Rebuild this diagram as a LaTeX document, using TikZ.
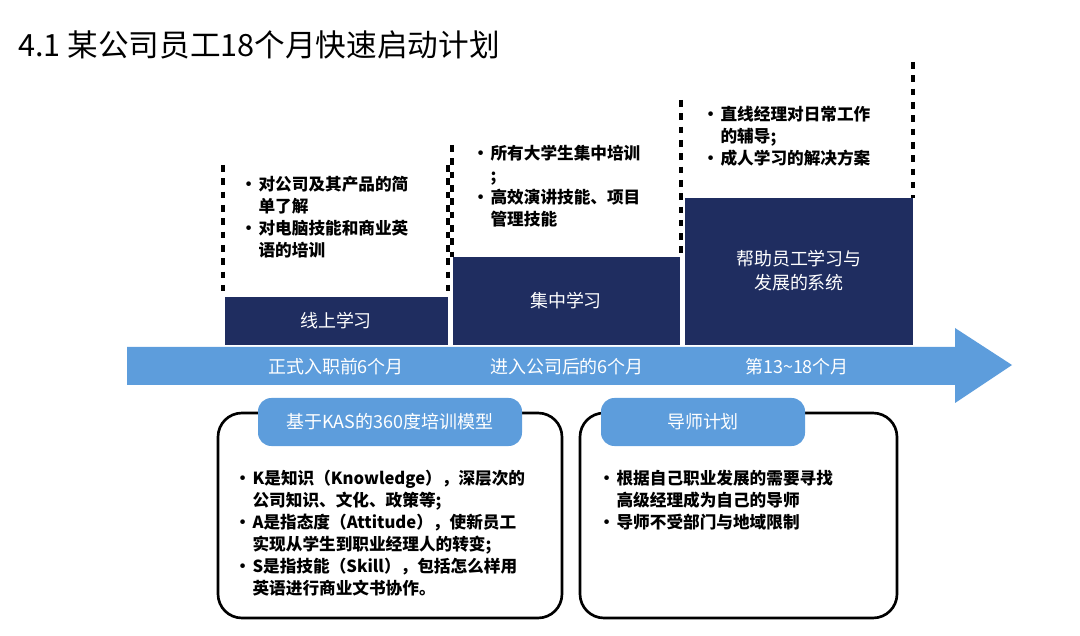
\documentclass[tikz,border=0pt]{standalone}
\usepackage{fontspec}
\setmainfont{Noto Sans CJK SC}
\usetikzlibrary{positioning}
\definecolor{navy}{RGB}{31,45,96}
\definecolor{skyblue}{RGB}{93,157,220}
\newcommand{\bl}{\makebox[1.1em][l]{•}}
\newcommand{\ind}{\hspace*{1.1em}}
\tikzset{
  stage/.style={fill=navy,draw=none,text=white,font=\fontsize{13.5}{18}\selectfont,align=center},
  divider/.style={line width=2.6pt,dash pattern=on 5pt off 5pt},
  period/.style={text=white,font=\fontsize{13.5}{16}\selectfont},
  notes/.style={font=\bfseries\fontsize{12.5}{16.5}\selectfont,align=left,anchor=north west,inner sep=0pt},
  panel/.style={draw,line width=2pt,rounded corners=18pt},
  pill/.style={fill=skyblue,rounded corners=10pt,text=white,font=\fontsize{13.5}{16}\selectfont}
}
\begin{document}
\begin{tikzpicture}[x=0.0264cm,y=-0.0264cm]
\useasboundingbox (0,0) rectangle (1080,636);
\node[anchor=west,inner sep=0pt,font=\fontsize{23}{26}\selectfont] (title) at (18,45) {4.1 某公司员工18个月快速启动计划};

% timeline arrow
\fill[skyblue] (127,347) -- (955,347) -- (955,328) -- (1012,365) -- (955,403) -- (955,385) -- (127,385) -- cycle;

% stage blocks
\fill[navy] (225,297) rectangle (448,345);
\fill[navy] (453,257) rectangle (680,345);
\fill[navy] (685,198) rectangle (913,345);
\node[stage] (s1) at (336,321) {线上学习};
\node[stage] (s2) at (566,301) {集中学习};
\node[stage] (s3) at (799,271) {帮助员工学习与\\发展的系统};

% dashed borders
\draw[divider] (223,165) -- (223,297);
\draw[divider] (448,165) -- (448,297);
\draw[divider] (452,145) -- (452,257);
\draw[divider] (681,100) -- (681,257);
\draw[divider] (913,62) -- (913,198);

\node[period] (p1) at (336,367) {正式入职前6个月};
\node[period] (p2) at (567,367) {进入公司后的6个月};
\node[period] (p3) at (797,367) {第13\textasciitilde 18个月};

\node[notes] (n1) at (240,176) {\bl 对公司及其产品的简\\\ind 单了解\\\bl 对电脑技能和商业英\\\ind 语的培训};
\node[notes] (n2) at (472,145) {\bl 所有大学生集中培训\\\ind ;\\\bl 高效演讲技能、项目\\\ind 管理技能};
\node[notes] (n3) at (702,106) {\bl 直线经理对日常工作\\\ind 的辅导;\\\bl 成人学习的解决方案};

% bottom panels
\draw[panel] (218,413) rectangle (562,618);
\draw[panel] (580,413) rectangle (897,618);
\node[pill,minimum width=264*0.0264cm,minimum height=48*0.0264cm] (h1) at (390,422) {基于KAS的360度培训模型};
\node[pill,minimum width=204*0.0264cm,minimum height=48*0.0264cm] (h2) at (703,422) {导师计划};

\node[notes] (k1) at (234,470) {\bl K是知识（Knowledge），深层次的\\\ind 公司知识、文化、政策等;\\\bl A是指态度（Attitude），使新员工\\\ind 实现从学生到职业经理人的转变;\\\bl S是指技能（Skill），包括怎么样用\\\ind 英语进行商业文书协作。};
\node[notes] (k2) at (598,470) {\bl 根据自己职业发展的需要寻找\\\ind 高级经理成为自己的导师\\\bl 导师不受部门与地域限制};
\end{tikzpicture}
\end{document}
